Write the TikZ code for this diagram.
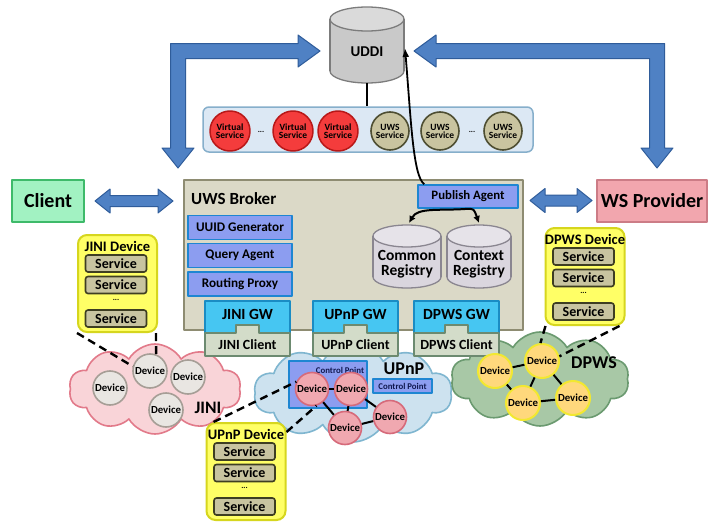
\documentclass[tikz,border=0pt]{standalone}
\usepackage{fontspec}
\setmainfont{Carlito}
\usetikzlibrary{shapes.symbols,arrows.meta,calc}
\definecolor{arrowfill}{HTML}{4F81C4}
\definecolor{arrowdraw}{HTML}{2F5C9A}
\definecolor{cylfill}{HTML}{C9C9C9}
\definecolor{cyltop}{HTML}{DADADA}
\definecolor{cyldraw}{HTML}{7C7C7C}
\definecolor{barfill}{HTML}{DCE8F4}
\definecolor{bardraw}{HTML}{86AFCB}
\definecolor{vsfill}{HTML}{F43C3C}
\definecolor{vsdraw}{HTML}{B81818}
\definecolor{uwsfill}{HTML}{C9C4A0}
\definecolor{uwsdraw}{HTML}{4E4E32}
\definecolor{clientfill}{HTML}{A2F2C2}
\definecolor{clientdraw}{HTML}{3EBA6A}
\definecolor{wsfill}{HTML}{F2A6AE}
\definecolor{wsdraw}{HTML}{CC7C86}
\definecolor{brokerfill}{HTML}{DBD9C7}
\definecolor{brokerdraw}{HTML}{8E8C72}
\definecolor{bboxfill}{HTML}{8C9DF0}
\definecolor{bboxdraw}{HTML}{1E86D2}
\definecolor{regfill}{HTML}{DAD6DE}
\definecolor{regtop}{HTML}{E6E3E9}
\definecolor{regdraw}{HTML}{8A8690}
\definecolor{gwfill}{HTML}{46C6F2}
\definecolor{gwdraw}{HTML}{1A8CC4}
\definecolor{gcfill}{HTML}{D3DCC9}
\definecolor{gcdraw}{HTML}{6C8A70}
\definecolor{yfill}{HTML}{FFFF66}
\definecolor{ydraw}{HTML}{D6D61E}
\definecolor{sfill}{HTML}{C8C4A0}
\definecolor{sdraw}{HTML}{3E3E22}
\definecolor{jinifill}{HTML}{F9D4D8}
\definecolor{jinidraw}{HTML}{E27A8A}
\definecolor{jdfill}{HTML}{E9E6E2}
\definecolor{jddraw}{HTML}{A69E96}
\definecolor{upnpfill}{HTML}{CDE2EF}
\definecolor{upnpdraw}{HTML}{7FB6D0}
\definecolor{udfill}{HTML}{F0A8B0}
\definecolor{uddraw}{HTML}{D66A7A}
\definecolor{dpwsfill}{HTML}{A8C8A6}
\definecolor{dpwsdraw}{HTML}{6B9A70}
\definecolor{ddfill}{HTML}{FFD87C}
\definecolor{dddraw}{HTML}{F2E830}
\definecolor{cptext}{HTML}{101850}
\newcommand{\myfs}[1]{\fontsize{#1}{#1}\selectfont}
% cylinder: cx, top-centre y, bottom-centre y, half width, ellipse radius, body fill, top fill, border
\newcommand{\drawcyl}[8]{%
  \filldraw[fill=#6, draw=#8, line width=1.3pt] (#1,#3) ellipse [x radius=#4pt, y radius=#5pt];
  \fill[#6] ({#1-#4},#2) rectangle ({#1+#4},#3);
  \draw[#8, line width=1.3pt] ({#1-#4},#2) -- ({#1-#4},#3) ({#1+#4},#2) -- ({#1+#4},#3);
  \filldraw[fill=#7, draw=#8, line width=1.3pt] (#1,#2) ellipse [x radius=#4pt, y radius=#5pt];}
% gateway: name, cx, top text, client name, client text
\newcommand{\gateway}[5]{%
  \node[gwtop] (#1) at (#2,317) {};
  \node[gwtext] at (#2,314) {#3};
  \filldraw[gwclient] ({#2-42.5},333) -- ({#2-11.5},333) -- ({#2-11.5},325) -- ({#2+11.5},325)
     -- ({#2+11.5},333) -- ({#2+42.5},333) -- ({#2+42.5},356) -- ({#2-42.5},356) -- cycle;
  \node[gwtext2] (#4) at (#2,345) {#5};}
% device box: name, cx, top y, title
\newcommand{\devbox}[4]{%
  \node[yellowbox] (#1) at (#2,{#3+48.5}) {};
  \node[devtitle] at (#2,{#3+11}) {#4};
  \node[svc] (#1s1) at ({#2-1.5},{#3+28.5}) {Service};
  \node[svc] (#1s2) at ({#2-1.5},{#3+50}) {Service};
  \node[dotsnode] at ({#2-1.5},{#3+65}) {...};
  \node[svc] (#1s3) at ({#2-1.5},{#3+83.5}) {Service};}
% horizontal double arrow: x1, x2, y
\newcommand{\hdarrow}[3]{%
  \filldraw[bigarrow] (#1,#3) -- ({#1+15},{#3-12}) -- ({#1+15},{#3-5.5}) -- ({#2-15},{#3-5.5})
   -- ({#2-15},{#3-12}) -- (#2,#3) -- ({#2-15},{#3+12}) -- ({#2-15},{#3+5.5})
   -- ({#1+15},{#3+5.5}) -- ({#1+15},{#3+12}) -- cycle;}
\begin{document}
\begin{tikzpicture}[x=1pt,y=-1pt,line join=round,
  every node/.style={font=\bfseries,text=black},
  bigarrow/.style={fill=arrowfill,draw=arrowdraw,line width=1pt},
  bluebox/.style={draw=bboxdraw,fill=bboxfill,line width=1.6pt,inner sep=0pt,minimum width=104pt,minimum height=24pt,font=\bfseries\myfs{13.2}},
  yellowbox/.style={draw=ydraw,fill=yfill,line width=2pt,rounded corners=9pt,minimum width=79pt,minimum height=97pt,inner sep=0pt},
  svc/.style={draw=sdraw,fill=sfill,line width=1.6pt,rounded corners=2.5pt,minimum width=61pt,minimum height=17pt,inner sep=0pt,font=\bfseries\myfs{14}},
  devtitle/.style={font=\bfseries\myfs{14.5},inner sep=0pt},
  dotsnode/.style={font=\bfseries\myfs{8},inner sep=0pt},
  gwtop/.style={draw=gwdraw,fill=gwfill,line width=1.6pt,minimum width=85pt,minimum height=32pt,inner sep=0pt},
  gwtext/.style={font=\bfseries\myfs{15.5},inner sep=0pt},
  gwtext2/.style={font=\bfseries\myfs{14},inner sep=0pt},
  gwclient/.style={draw=gcdraw,fill=gcfill,line width=1.6pt},
  vserv/.style={circle,draw=vsdraw,fill=vsfill,line width=1.5pt,minimum size=40pt,inner sep=0pt,align=center,font=\bfseries\myfs{9.5}},
  userv/.style={circle,draw=uwsdraw,fill=uwsfill,line width=1.6pt,minimum size=38pt,inner sep=0pt,align=center,font=\bfseries\myfs{9.5}},
  jdev/.style={circle,draw=jddraw,fill=jdfill,line width=1.6pt,minimum size=34pt,inner sep=0pt,font=\bfseries\myfs{10.8}},
  udev/.style={circle,draw=uddraw,fill=udfill,line width=1.6pt,minimum size=33pt,inner sep=0pt,font=\bfseries\myfs{10.8}},
  ddev/.style={circle,draw=dddraw,fill=ddfill,line width=2pt,minimum size=34pt,inner sep=0pt,font=\bfseries\myfs{10.8}},
  link/.style={line width=2pt,black},
  dlink/.style={line width=2.4pt,black,dash pattern=on 8pt off 5pt},
  cloudshape/.style={cloud,cloud puffs=10,cloud puff arc=120,aspect=1.9,line width=1.6pt,inner sep=0pt}]
\fill[white] (0,0) rectangle (718,522);
\useasboundingbox (0,0) rectangle (718,522);

% big L-shaped arrows
\filldraw[bigarrow] (170.5,43.5) -- (298,43.5) -- (298,35) -- (320,51) -- (298,67) -- (298,58.5)
  -- (185.5,58.5) -- (185.5,148) -- (194,148) -- (178,168) -- (162,148) -- (170.5,148) -- cycle;
\filldraw[bigarrow] (664.5,43.5) -- (436,43.5) -- (436,35) -- (414,51) -- (436,67) -- (436,58.5)
  -- (649.5,58.5) -- (649.5,148) -- (641,148) -- (657,168) -- (673,148) -- (664.5,148) -- cycle;

% UDDI
\drawcyl{367}{19}{71}{37}{12}{cylfill}{cyltop}{cyldraw}
\node[minimum width=74pt,minimum height=76pt,inner sep=0pt] (uddi) at (367,45) {};
\node[font=\bfseries\myfs{15},inner sep=0pt] (uddit) at (367,52) {UDDI};

% service bar
\node[draw=bardraw,fill=barfill,line width=1.5pt,rounded corners=6pt,minimum width=330pt,minimum height=45pt,inner sep=0pt] (bar) at (368,129.5) {};
\draw[line width=1.6pt] (uddi.south) -- (uddi.south |- bar.north);
\node[vserv] (vs1) at (230,131) {Virtual\\[-1.5pt]Service};
\node[dotsnode] (vd) at (261,132) {...};
\node[vserv] (vs2) at (293,131) {Virtual\\[-1.5pt]Service};
\node[vserv] (vs3) at (338,131) {Virtual\\[-1.5pt]Service};
\node[userv] (us1) at (390,131) {UWS\\[-1.5pt]Service};
\node[userv] (us2) at (440,131) {UWS\\[-1.5pt]Service};
\node[dotsnode] (ud) at (472,132) {...};
\node[userv] (us3) at (503,131) {UWS\\[-1.5pt]Service};

% client / provider
\node[draw=clientdraw,fill=clientfill,line width=1.6pt,minimum width=72pt,minimum height=42pt,inner sep=0pt,font=\bfseries\myfs{20}] (client) at (48,201) {Client};
\node[draw=wsdraw,fill=wsfill,line width=1.6pt,minimum width=110pt,minimum height=42pt,inner sep=0pt,font=\bfseries\myfs{20}] (ws) at (652,201) {WS Provider};
\hdarrow{95}{173}{201}
\hdarrow{530}{592}{200.5}

% broker
\node[draw=brokerdraw,fill=brokerfill,line width=1.6pt,minimum width=339pt,minimum height=150pt,inner sep=0pt] (broker) at (353.5,255) {};
\node[anchor=west,font=\bfseries\myfs{17},inner sep=0pt] (brokert) at (191,199) {UWS Broker};
\node[bluebox] (uuid) at (240,227.5) {UUID Generator};
\node[bluebox] (query) at (240,255.5) {Query Agent};
\node[bluebox] (route) at (240,284) {Routing Proxy};
\node[bluebox,minimum width=100pt,minimum height=23pt,font=\bfseries\myfs{12.8}] (pub) at (468,196.5) {Publish Agent};

\drawcyl{407}{236}{277}{34}{11}{regfill}{regtop}{regdraw}
\drawcyl{479}{236}{277}{32}{11}{regfill}{regtop}{regdraw}
\node[align=center,font=\bfseries\myfs{15.5},inner sep=0pt] (common) at (407,264) {Common\\[-1pt]Registry};
\node[align=center,font=\bfseries\myfs{15.5},inner sep=0pt] (context) at (479,264) {Context\\[-1pt]Registry};
\coordinate (commontop) at (409,223);
\coordinate (contexttop) at (479,223);
\draw[line width=2pt,-{Latex[length=7pt,width=7pt]}] (pub.south) .. controls (440,211) and (418,207) .. (commontop);
\draw[line width=2pt,-{Latex[length=7pt,width=7pt]}] (pub.south) .. controls (474,209) .. (contexttop);
\coordinate (uddiin) at (405,48);
\draw[line width=1.8pt,-{Latex[length=9pt,width=7pt]}] ([xshift=7pt]pub.north west) .. controls (413,176) and (411,120) .. (uddiin);

% clouds
\node[cloudshape,draw=jinidraw,fill=jinifill,minimum width=172pt,minimum height=90pt] (jcloud) at (155,389) {};
\node[cloudshape,draw=upnpdraw,fill=upnpfill,minimum width=198pt,minimum height=98pt] (ucloud) at (353,393) {};
\node[cloudshape,draw=dpwsdraw,fill=dpwsfill,minimum width=178pt,minimum height=94pt] (dcloud) at (540,379) {};

% gateways
\gateway{jinigw}{247.5}{JINI GW}{jinic}{JINI Client}
\gateway{upnpgw}{355.5}{UPnP GW}{upnpc}{UPnP Client}
\gateway{dpwsgw}{456.5}{DPWS GW}{dpwsc}{DPWS Client}

% device boxes
\devbox{jdevbox}{117.5}{235}{JINI Device}
\devbox{ddevbox}{585}{228}{DPWS Device}
\devbox{udevbox}{246}{423}{UPnP Device}

% JINI devices
\node[jdev] (j1) at (110,388) {Device};
\node[jdev] (j2) at (150,371) {Device};
\node[jdev] (j3) at (188,377) {Device};
\node[jdev] (j4) at (166,410) {Device};
\node[font=\bfseries\myfs{17.5},inner sep=0pt] (jlabel) at (208,408) {JINI};
\draw[dlink] (jdevbox.south west) -- (j2.165);
\draw[dlink] ([xshift=-2pt]jdevbox.south east) -- (j2.70);

% UPnP
\node[draw=bboxdraw,fill=bboxfill,line width=1.6pt,minimum width=78pt,minimum height=47pt,inner sep=0pt] (cpbig) at (328,384.5) {};
\node[font=\bfseries\myfs{8.8},text=cptext,inner sep=0pt] (cpbigt) at (340,370) {Control Point};
\node[draw=bboxdraw,fill=bboxfill,line width=1.4pt,minimum width=59pt,minimum height=14pt,inner sep=0pt,font=\bfseries\myfs{8.8},text=cptext] (cpsmall) at (402.5,386) {Control Point};
\node[font=\bfseries\myfs{18},inner sep=0pt] (ulabel) at (404,369) {UPnP};
\node[udev] (u1) at (312,389) {Device};
\node[udev] (u2) at (351,389) {Device};
\node[udev] (u3) at (345,428) {Device};
\node[udev] (u4) at (390,417) {Device};
\draw[link] (u1) -- (u2);
\draw[link] (u1) -- (u3);
\draw[link] (u2) -- (u3);
\draw[link] (u2) -- (u4);
\draw[link] (u3) -- (u4);
\draw[dlink] ([xshift=8pt]udevbox.north west) -- (u1.155);
\draw[dlink] ($(udevbox.north east)+(0,10)$) -- (u1.-75);

% DPWS
\node[ddev] (d1) at (495,371) {Device};
\node[ddev] (d2) at (542,361) {Device};
\node[ddev] (d3) at (523,403) {Device};
\node[ddev] (d4) at (573,398) {Device};
\node[font=\bfseries\myfs{18},inner sep=0pt] (dlabel) at (594,363) {DPWS};
\draw[link] (d1) -- (d2);
\draw[link] (d1) -- (d3);
\draw[link] (d2) -- (d3);
\draw[link] (d2) -- (d4);
\draw[link] (d3) -- (d4);
\draw[dlink] ([xshift=1pt]ddevbox.south west) -- (d2.95);
\draw[dlink] ([xshift=-6pt]ddevbox.south east) -- (d2.15);
\end{tikzpicture}
\end{document}
